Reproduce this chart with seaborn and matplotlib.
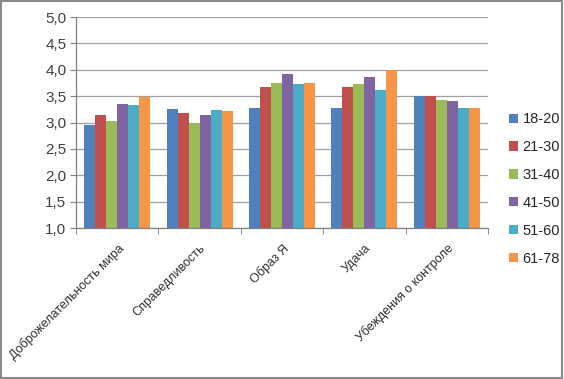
import matplotlib
matplotlib.use("Agg")
import matplotlib.pyplot as plt
import matplotlib.patches as patches
import seaborn as sns
import pandas as pd

categories = ["Доброжелательность мира", "Справедливость", "Образ Я", "Удача", "Убеждения о контроле"]
groups = ["18-20", "21-30", "31-40", "41-50", "51-60", "61-78"]
v_18_20 = [2.96, 3.25, 3.28, 3.27, 3.50]
v_21_30 = [3.15, 3.18, 3.68, 3.68, 3.50]
v_31_40 = [3.02, 3.00, 3.75, 3.73, 3.43]
v_41_50 = [3.35, 3.15, 3.92, 3.86, 3.41]
v_51_60 = [3.34, 3.24, 3.73, 3.62, 3.27]
v_61_78 = [3.48, 3.22, 3.75, 3.99, 3.28]
colors = ["#4F81BD", "#C0504D", "#9BBB59", "#8064A2", "#4BACC6", "#F79646"]

series = [v_18_20, v_21_30, v_31_40, v_41_50, v_51_60, v_61_78]
rows = []
for g, vals in zip(groups, series):
    for c, v in zip(categories, vals):
        rows.append({"cat": c, "age": g, "val": v})
df = pd.DataFrame(rows)

sns.set_style("white")
plt.rcParams["font.family"] = ["Liberation Sans", "DejaVu Sans"]

fig = plt.figure(figsize=(5.64, 3.79), dpi=100)
ax = fig.add_axes([76 / 564, 1 - 228 / 379, 412 / 564, 211 / 379])

sns.barplot(data=df, x="cat", y="val", hue="age", palette=colors, width=0.8,
            gap=0, saturation=1, linewidth=0, ax=ax)
ax.set_ylim(1.0, 5.0)
ax.set_xlim(-0.5, 4.5)
ax.set_yticks([1.0, 1.5, 2.0, 2.5, 3.0, 3.5, 4.0, 4.5, 5.0])
ax.set_yticklabels([f"{t:.1f}".replace(".", ",") for t in ax.get_yticks()], fontsize=11, color="#404040")
ax.yaxis.grid(True, color="#a0a0a0", linewidth=0.9)
ax.set_axisbelow(True)
ax.set_xlabel("")
ax.set_ylabel("")

ax.set_xticks(range(len(categories)))
ax.set_xticklabels(categories, rotation=45, ha="right", rotation_mode="anchor", fontsize=9, color="#303030")
ax.set_xticks([i - 0.5 for i in range(len(categories) + 1)], minor=True)
ax.tick_params(axis="x", which="major", length=0, pad=10)
ax.tick_params(axis="x", which="minor", length=4, color="#808080", direction="out", bottom=True)
ax.tick_params(axis="y", length=4, color="#808080", direction="out", left=True, pad=3)

for s in ["top", "right"]:
    ax.spines[s].set_visible(False)
for s in ["left", "bottom"]:
    ax.spines[s].set_color("#808080")
    ax.spines[s].set_linewidth(0.9)

ax.legend(loc="center left", bbox_to_anchor=(1.02, 0.185), frameon=False, fontsize=10.5,
          handlelength=0.6, handleheight=0.6, handletextpad=0.3, labelspacing=0.95)

fig.patches.append(patches.Rectangle((0.002, 0.003), 0.995, 0.994, transform=fig.transFigure,
                                     fill=False, edgecolor="#8a8a8a", linewidth=1.5))

fig.savefig("out.png", dpi=100)
